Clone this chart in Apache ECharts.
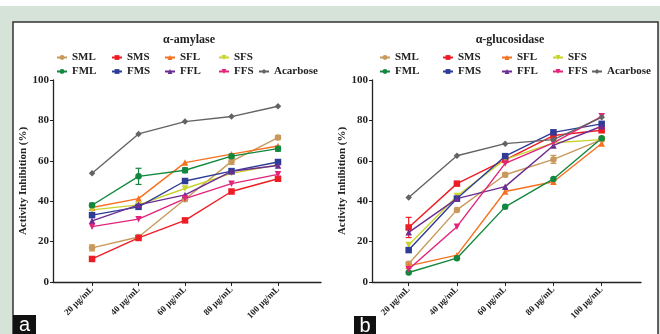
<!DOCTYPE html>
<html>
<head>
<meta charset="utf-8">
<script src="https://cdn.jsdelivr.net/npm/echarts@6/dist/echarts.min.js"></script>
<style>
  html, body { margin: 0; padding: 0; background: #fff; }
  #chart { width: 660px; height: 334px; }
</style>
</head>
<body>
<div id="chart"></div>
<script>
/* ===== 数据 ===== */
const doses = [20, 40, 60, 80, 100];
const doseLabels = ["20 μg/mL", "40 μg/mL", "60 μg/mL", "80 μg/mL", "100 μg/mL"];
const seriesNames = ["SML", "SMS", "SFL", "SFS", "FML", "FMS", "FFL", "FFS", "Acarbose"];

// α-amylase
const amySML = [16.9, 22.3, 41.0, 59.7, 71.5];
const amySMS = [11.4, 21.8, 30.5, 44.8, 51.1];
const amySFL = [36.9, 41.3, 59.1, 63.3, 67.3];
const amySFS = [35.7, 38.2, 46.3, 53.8, 58.0];
const amyFML = [38.0, 52.3, 55.3, 62.3, 66.0];
const amyFMS = [33.1, 37.2, 50.0, 54.9, 59.4];
const amyFFL = [30.3, 38.2, 43.1, 54.8, 57.7];
const amyFFS = [27.4, 31.1, 41.3, 48.7, 53.3];
const amyAcarbose = [53.8, 73.3, 79.4, 81.9, 87.0];
const amyErrFML = [1.0, 4.0, 1.2, 1.0, 1.2];
const amyErrSML = [1.5, 0.6, 0.8, 1.5, 1.0];

// α-glucosidase
const gluSML = [9.0, 35.7, 53.1, 60.7, 70.5];
const gluSMS = [27.0, 48.7, 60.5, 72.5, 75.1];
const gluSFL = [8.0, 13.3, 44.8, 49.6, 68.6];
const gluSFS = [18.3, 42.6, 60.7, 68.9, 70.5];
const gluFML = [4.7, 11.8, 37.2, 51.0, 71.2];
const gluFMS = [15.8, 41.3, 62.3, 74.1, 78.3];
const gluFFL = [24.6, 41.3, 47.2, 67.6, 77.1];
const gluFFS = [6.3, 27.4, 58.7, 68.9, 82.0];
const gluAcarbose = [41.8, 62.5, 68.5, 70.5, 81.5];
const gluErrSMS = [5.0, 0.8, 0.8, 1.0, 1.0];
const gluErrSML = [0.8, 0.8, 1.0, 2.0, 0.8];

/* ===== 样式 ===== */
const colors = {
    SML: "#c8995a", SMS: "#ee1c25", SFL: "#f7701f", SFS: "#c9d32c",
    FML: "#13873d", FMS: "#2e3b97", FFL: "#6b2d91", FFS: "#e2247a",
    Acarbose: "#636363",
};
const downTri = "path://M0,0 L10,0 L5,9 Z";
const symbols = {
    SML: "circle", SMS: "rect", SFL: "triangle", SFS: downTri,
    FML: "circle", FMS: "rect", FFL: "triangle", FFS: downTri,
    Acarbose: "diamond",
};
const serif = "Liberation Serif";

const amyData = { SML: amySML, SMS: amySMS, SFL: amySFL, SFS: amySFS, FML: amyFML, FMS: amyFMS, FFL: amyFFL, FFS: amyFFS, Acarbose: amyAcarbose };
const gluData = { SML: gluSML, SMS: gluSMS, SFL: gluSFL, SFS: gluSFS, FML: gluFML, FMS: gluFMS, FFL: gluFFL, FFS: gluFFS, Acarbose: gluAcarbose };
const amyErr = { FML: amyErrFML, SML: amyErrSML };
const gluErr = { SMS: gluErrSMS, SML: gluErrSML };

const panels = [
    { title: "α-amylase", grid: { left: 53, top: 80, width: 268, height: 202 }, xmin: 3.2, xmax: 118.5,
      titleX: 184, legendX: [61, 116, 169, 223], legendX2: [61, 116, 169, 223, 263], data: amyData, err: amyErr },
    { title: "α-glucosidase", grid: { left: 372, top: 80, width: 269, height: 202 }, xmin: 4.8, xmax: 116.3,
      titleX: 505, legendX: [384, 447, 506, 557], legendX2: [384, 447, 506, 557, 596], data: gluData, err: gluErr },
];

/* ===== 构建 option ===== */
const grids = [], xAxes = [], yAxes = [], series = [], legends = [], titles = [];

panels.forEach((p, i) => {
    grids.push(p.grid);
    xAxes.push({
        type: "value", gridIndex: i, min: p.xmin, max: p.xmax,
        splitLine: { show: false },
        axisLine: { show: true, onZero: false, lineStyle: { color: "#222", width: 1.3 } },
        axisTick: { show: true, customValues: doses, length: 4, lineStyle: { color: "#222" } },
        axisLabel: {
            customValues: doses, rotate: 45, margin: 6,
            formatter: v => doseLabels[doses.indexOf(v)] || "",
            fontFamily: serif, fontWeight: "bold", fontSize: 9, color: "#222",
        },
    });
    yAxes.push({
        type: "value", gridIndex: i, min: 0, max: 100, interval: 20,
        name: "Activity Inhibition (%)", nameLocation: "middle", nameGap: 19, nameRotate: 90,
        nameTextStyle: { fontFamily: serif, fontWeight: "bold", fontSize: 11, color: "#222" },
        splitLine: { show: false },
        axisLine: { show: true, lineStyle: { color: "#222", width: 1.3 } },
        axisTick: { show: true, length: 3, lineStyle: { color: "#222" } },
        axisLabel: { fontFamily: serif, fontWeight: "bold", fontSize: 11, color: "#222", margin: 4 },
    });
    titles.push({
        text: p.title, left: p.titleX, top: 29, textAlign: "center",
        textStyle: { fontFamily: serif, fontWeight: "bold", fontSize: 12, color: "#222" },
    });

    seriesNames.forEach((name, k) => {
        const vals = p.data[name];
        series.push({
            name, type: "line", xAxisIndex: i, yAxisIndex: i,
            data: doses.map((d, j) => [d, vals[j]]),
            symbol: symbols[name], symbolSize: 6.5,
            color: colors[name],
            itemStyle: { color: colors[name], borderWidth: 0 },
            lineStyle: { width: 1.4, color: colors[name] },
            z: k === 8 ? 3 : 2,
        });
        const errs = p.err[name];
        if (errs) {
            series.push({
                type: "custom", xAxisIndex: i, yAxisIndex: i,
                data: doses.map((d, j) => [d, vals[j], errs[j]]),
                renderItem(params, api) {
                    const x = api.value(0), y = api.value(1), e = api.value(2);
                    const lo = api.coord([x, y - e]), hi = api.coord([x, y + e]);
                    const st = { stroke: colors[name], lineWidth: 1.2 };
                    return { type: "group", children: [
                        { type: "line", shape: { x1: lo[0], y1: lo[1], x2: hi[0], y2: hi[1] }, style: st },
                        { type: "line", shape: { x1: lo[0] - 3, y1: lo[1], x2: lo[0] + 3, y2: lo[1] }, style: st },
                        { type: "line", shape: { x1: hi[0] - 3, y1: hi[1], x2: hi[0] + 3, y2: hi[1] }, style: st },
                    ]};
                },
                silent: true, z: 1,
            });
        }
    });

    const row1 = seriesNames.slice(0, 4), row2 = seriesNames.slice(4);
    [[row1, p.legendX, 52], [row2, p.legendX2, 66]].forEach(([names, xs, top]) => {
        names.forEach((n, j) => {
            legends.push({
                data: [n], left: xs[j] - 5, top, padding: 0, itemWidth: 10, itemHeight: 6, itemGap: 4,
                selectedMode: false,
                itemStyle: { borderWidth: 0 },
                textStyle: { fontFamily: serif, fontWeight: "bold", fontSize: 11, color: "#222" },
            });
        });
    });
});

const chart = echarts.init(document.getElementById("chart"));
chart.setOption({
    animation: false,
    backgroundColor: "#fff",
    title: titles,
    legend: legends,
    grid: grids,
    xAxis: xAxes,
    yAxis: yAxes,
    series,
    graphic: [
        { type: "rect", shape: { x: 0, y: 6, width: 660, height: 328 }, style: { fill: "#d6e3d8" }, z: -10, silent: true },
        { type: "rect", shape: { x: 13, y: 22, width: 645, height: 320 }, style: { fill: "#fff", stroke: "#333", lineWidth: 1.5 }, z: -9, silent: true },
        { type: "rect", shape: { x: 13, y: 315, width: 23, height: 19 }, style: { fill: "#111" }, z: 10 },
        { type: "text", x: 24.5, y: 325, style: { text: "a", fill: "#fff", font: "20px 'Liberation Sans'", align: "center", verticalAlign: "middle" }, z: 11 },
        { type: "rect", shape: { x: 354, y: 316, width: 22, height: 18 }, style: { fill: "#111" }, z: 10 },
        { type: "text", x: 365, y: 326, style: { text: "b", fill: "#fff", font: "20px 'Liberation Sans'", align: "center", verticalAlign: "middle" }, z: 11 },
    ],
});
</script>
</body>
</html>
